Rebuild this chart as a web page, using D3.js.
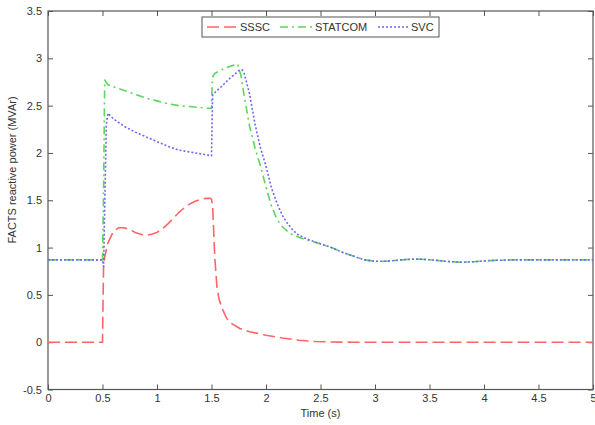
<!DOCTYPE html>
<html>
<head>
<meta charset="utf-8">
<script src="https://cdn.jsdelivr.net/npm/d3@7"></script>
<style>
  html, body { margin: 0; padding: 0; background: #fff; }
  svg text { font-family: Arial, "Liberation Sans", sans-serif; fill: #333; }
</style>
</head>
<body>
<svg id="chart" width="595" height="425"></svg>
<script>
// Reactive power delivered by each FACTS device over the simulation run
const sssc = {
  t: [0, 0.5, 0.505, 0.51, 0.52, 0.55, 0.6, 0.65, 0.7, 0.75, 0.8, 0.85, 0.9, 0.95, 1.0, 1.05, 1.1, 1.15, 1.2, 1.25, 1.3, 1.35, 1.4, 1.45, 1.49, 1.5, 1.51, 1.53, 1.55, 1.57, 1.6, 1.64, 1.68, 1.76, 1.85, 2.0, 2.15, 2.3, 2.45, 2.6, 2.8, 5.0],
  v: [0, 0, 0.45, 0.8, 0.9, 1.05, 1.17, 1.21, 1.21, 1.19, 1.16, 1.14, 1.13, 1.14, 1.16, 1.2, 1.25, 1.31, 1.37, 1.42, 1.46, 1.49, 1.51, 1.52, 1.52, 1.51, 1.45, 0.9, 0.58, 0.45, 0.35, 0.25, 0.2, 0.145, 0.11, 0.074, 0.045, 0.02, 0.008, 0.002, 0, 0]
};
const statcom = {
  t: [0, 0.5, 0.51, 0.52, 0.55, 0.6, 0.7, 0.8, 0.9, 1.0, 1.1, 1.2, 1.3, 1.4, 1.5, 1.505, 1.51, 1.53, 1.61, 1.68, 1.74, 1.77, 1.8, 1.85, 1.9, 1.95, 2.0, 2.05, 2.1, 2.15, 2.2, 2.25, 2.3, 2.4, 2.5, 2.6, 2.7, 2.8, 2.9, 3.0, 3.1, 3.2, 3.3, 3.4, 3.5, 3.6, 3.7, 3.8, 3.9, 4.0, 4.1, 4.3, 5.0],
  v: [0.87, 0.87, 1.6, 2.77, 2.72, 2.70, 2.66, 2.62, 2.58, 2.55, 2.52, 2.50, 2.49, 2.48, 2.47, 2.7, 2.80, 2.84, 2.89, 2.92, 2.94, 2.82, 2.6, 2.28, 2.05, 1.86, 1.64, 1.44, 1.3, 1.22, 1.17, 1.13, 1.11, 1.07, 1.04, 1.0, 0.95, 0.91, 0.87, 0.855, 0.855, 0.865, 0.875, 0.878, 0.872, 0.86, 0.85, 0.845, 0.85, 0.858, 0.865, 0.87, 0.87]
};
const svc = {
  t: [0, 0.5, 0.51, 0.52, 0.535, 0.55, 0.6, 0.7, 0.8, 0.9, 1.0, 1.1, 1.2, 1.3, 1.4, 1.5, 1.505, 1.51, 1.55, 1.6, 1.65, 1.7, 1.75, 1.78, 1.8, 1.85, 1.9, 1.95, 2.0, 2.05, 2.1, 2.15, 2.2, 2.25, 2.3, 2.4, 2.5, 2.6, 2.7, 2.8, 2.9, 3.0, 3.1, 3.2, 3.3, 3.4, 3.5, 3.6, 3.7, 3.8, 3.9, 4.0, 4.1, 4.3, 5.0],
  v: [0.87, 0.87, 0.8, 1.4, 2.3, 2.42, 2.36, 2.28, 2.22, 2.17, 2.12, 2.07, 2.03, 2.01, 1.99, 1.97, 2.3, 2.61, 2.66, 2.71, 2.77, 2.82, 2.87, 2.88, 2.84, 2.62, 2.3, 2.05, 1.86, 1.63, 1.47, 1.34, 1.25, 1.18, 1.13, 1.08, 1.04, 1.0, 0.95, 0.91, 0.87, 0.855, 0.855, 0.865, 0.875, 0.878, 0.872, 0.86, 0.85, 0.845, 0.85, 0.858, 0.865, 0.87, 0.87]
};

const seriesNames = ["SSSC", "STATCOM", "SVC"];
const xTicks = [0, 0.5, 1, 1.5, 2, 2.5, 3, 3.5, 4, 4.5, 5];
const yTicks = [-0.5, 0, 0.5, 1, 1.5, 2, 2.5, 3, 3.5];

const styles = {
  SSSC:    { color: "#ff6464", dash: "12,5",    width: 1.6 },
  STATCOM: { color: "#5cd65c", dash: "8,4,2,4", width: 1.6 },
  SVC:     { color: "#6a6af0", dash: "2,2",     width: 1.6 }
};

const svg = d3.select("#chart");
const plotLeft = 48, plotRight = 593, plotTop = 11, plotBottom = 389.5;

const x = d3.scaleLinear().domain([0, 5]).range([plotLeft, plotRight]);
const y = d3.scaleLinear().domain([-0.5, 3.5]).range([plotBottom, plotTop]);

svg.append("defs").append("clipPath").attr("id", "plotClip")
  .append("rect").attr("x", plotLeft).attr("y", plotTop)
  .attr("width", plotRight - plotLeft).attr("height", plotBottom - plotTop);

// frame
svg.append("rect")
  .attr("x", plotLeft).attr("y", plotTop)
  .attr("width", plotRight - plotLeft).attr("height", plotBottom - plotTop)
  .attr("fill", "#fff").attr("stroke", "#555").attr("stroke-width", 1.2);

// axes with inward ticks on all four sides
function styleAxis(g) {
  g.select(".domain").remove();
  g.selectAll(".tick line").attr("stroke", "#555").attr("stroke-width", 1);
  g.selectAll(".tick text").attr("font-size", 11).attr("fill", "#333");
}
const fmt = d => String(d);

svg.append("g").attr("transform", `translate(0,${plotBottom})`)
  .call(d3.axisBottom(x).tickValues(xTicks).tickFormat(fmt).tickSizeInner(-5).tickSizeOuter(0).tickPadding(5))
  .call(styleAxis);
svg.append("g").attr("transform", `translate(0,${plotTop})`)
  .call(d3.axisTop(x).tickValues(xTicks).tickFormat("").tickSizeInner(-5).tickSizeOuter(0))
  .call(styleAxis);
svg.append("g").attr("transform", `translate(${plotLeft},0)`)
  .call(d3.axisLeft(y).tickValues(yTicks).tickFormat(fmt).tickSizeInner(-5).tickSizeOuter(0).tickPadding(6))
  .call(styleAxis);
svg.append("g").attr("transform", `translate(${plotRight},0)`)
  .call(d3.axisRight(y).tickValues(yTicks).tickFormat("").tickSizeInner(-5).tickSizeOuter(0))
  .call(styleAxis);

// axis titles
svg.append("text")
  .attr("x", (plotLeft + plotRight) / 2).attr("y", 417)
  .attr("text-anchor", "middle").attr("font-size", 11)
  .text("Time (s)");
svg.append("text")
  .attr("transform", "translate(16,170) rotate(-90)")
  .attr("text-anchor", "middle").attr("font-size", 11)
  .text("FACTS reactive power (MVAr)");

// traces
const line = d3.line().x(d => x(d[0])).y(d => y(d[1]));
const plot = svg.append("g").attr("clip-path", "url(#plotClip)");
const data = { SSSC: sssc, STATCOM: statcom, SVC: svc };
seriesNames.forEach(name => {
  const s = data[name];
  const pts = s.t.map((t, i) => [t, s.v[i]]);
  const st = styles[name];
  plot.append("path")
    .datum(pts)
    .attr("d", line)
    .attr("fill", "none")
    .attr("stroke", st.color)
    .attr("stroke-width", st.width)
    .attr("stroke-dasharray", st.dash)
    .attr("stroke-linejoin", "round");
});

// legend
const lg = svg.append("g");
lg.append("rect")
  .attr("x", 202).attr("y", 17).attr("width", 237).attr("height", 20)
  .attr("fill", "#fff").attr("stroke", "#555").attr("stroke-width", 1);
const legendItems = [
  { name: "SSSC", x0: 207, x1: 237, tx: 240 },
  { name: "STATCOM", x0: 280, x1: 312, tx: 315 },
  { name: "SVC", x0: 378, x1: 408, tx: 411 }
];
legendItems.forEach(it => {
  const st = styles[it.name];
  lg.append("line")
    .attr("x1", it.x0).attr("x2", it.x1).attr("y1", 27).attr("y2", 27)
    .attr("stroke", st.color).attr("stroke-width", st.width)
    .attr("stroke-dasharray", st.dash);
  lg.append("text")
    .attr("x", it.tx).attr("y", 31)
    .attr("font-size", 11)
    .text(it.name);
});
</script>
</body>
</html>
